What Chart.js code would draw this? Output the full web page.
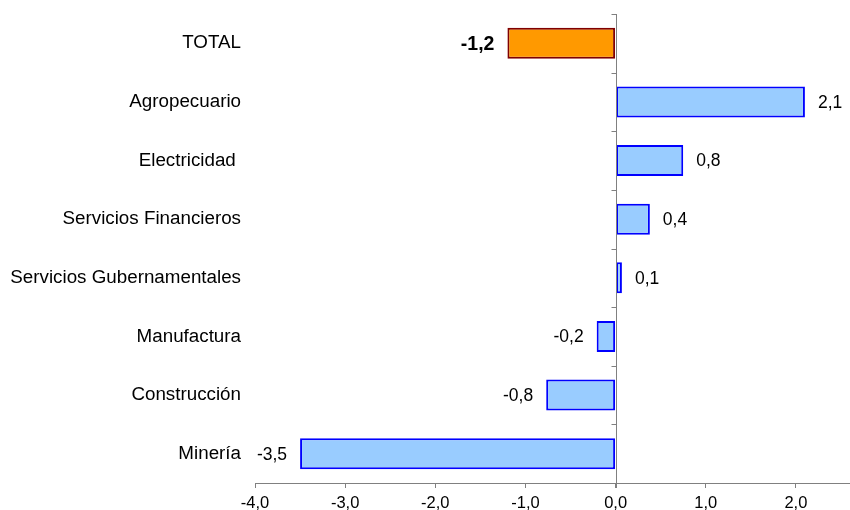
<!DOCTYPE html>
<html>
<head>
<meta charset="utf-8">
<script src="https://cdn.jsdelivr.net/npm/chart.js@4/dist/chart.umd.min.js"></script>
<style>
  html, body { margin: 0; padding: 0; background: #ffffff; }
  #wrap { width: 850px; height: 510px; position: relative; }
</style>
</head>
<body>
<div id="wrap"><canvas id="c"></canvas></div>
<script>
const categories = ["TOTAL", "Agropecuario", "Electricidad ", "Servicios Financieros", "Servicios Gubernamentales", "Manufactura", "Construcción", "Minería"];
const values = [-1.2, 2.1, 0.75, 0.38, 0.07, -0.21, -0.77, -3.5];
const xTickValues = [-4, -3, -2, -1, 0, 1, 2];

const FONT = "'Liberation Sans', Arial, sans-serif";
const fmt = v => (Math.round(v * 10) / 10).toFixed(1).replace('.', ',');

const fills = categories.map((c, i) => i === 0 ? '#FF9900' : '#99CCFF');
const borders = categories.map((c, i) => i === 0 ? '#800000' : '#0000FF');

const zeroAxisPlugin = {
  id: 'zeroAxis',
  afterDatasetsDraw(chart) {
    const { ctx, chartArea, scales } = chart;
    const x0 = Math.round(scales.x.getPixelForValue(0)) + 0.5;
    ctx.save();
    ctx.strokeStyle = '#808080';
    ctx.lineWidth = 1;
    ctx.beginPath();
    ctx.moveTo(x0, chartArea.top);
    ctx.lineTo(x0, chartArea.bottom + 5);
    const n = categories.length;
    const step = (chartArea.bottom - chartArea.top) / n;
    for (let i = 0; i < n; i++) {
      const y = Math.round(chartArea.top + i * step) + 0.5;
      ctx.moveTo(x0 - 5, y);
      ctx.lineTo(x0, y);
    }
    ctx.stroke();
    ctx.restore();
  }
};

const labelPlugin = {
  id: 'barLabels',
  afterDatasetsDraw(chart) {
    const { ctx } = chart;
    const meta = chart.getDatasetMeta(0);
    ctx.save();
    ctx.fillStyle = '#000000';
    ctx.textBaseline = 'middle';
    meta.data.forEach((bar, i) => {
      const v = values[i];
      ctx.font = (i === 0 ? 'bold 19.5px ' : '17.5px ') + FONT;
      if (v >= 0) {
        ctx.textAlign = 'left';
        ctx.fillText(fmt(v), bar.x + 13, bar.y + 1);
      } else {
        ctx.textAlign = 'right';
        ctx.fillText(fmt(v), bar.x - 13, bar.y + 1);
      }
    });
    ctx.restore();
  }
};

new Chart(document.getElementById('c'), {
  type: 'bar',
  data: {
    labels: categories,
    datasets: [{
      data: values,
      backgroundColor: fills,
      borderColor: borders,
      borderWidth: 2,
      borderSkipped: false,
      barPercentage: 0.53,
      categoryPercentage: 1.0
    }]
  },
  options: {
    indexAxis: 'y',
    responsive: true,
    maintainAspectRatio: false,
    devicePixelRatio: 1,
    animation: false,
    layout: { padding: { top: 14, right: 0, left: 0, bottom: 0 } },
    plugins: {
      legend: { display: false },
      tooltip: { enabled: false }
    },
    scales: {
      x: {
        type: 'linear',
        min: -4,
        max: 2.6,
        ticks: {
          stepSize: 1,
          color: '#000000',
          padding: 6,
          maxRotation: 0,
          autoSkip: false,
          font: { family: FONT, size: 16.5 },
          callback: v => fmt(v)
        },
        afterBuildTicks: axis => {
          axis.ticks = xTickValues.map(v => ({ value: v }));
        },
        afterFit: axis => { axis.height = 27; axis.paddingLeft = 0; axis.paddingRight = 0; },
        grid: {
          display: true,
          drawOnChartArea: false,
          drawTicks: true,
          tickLength: 5,
          color: '#808080'
        },
        border: { display: true, color: '#808080' }
      },
      y: {
        type: 'category',
        grid: { display: false, drawTicks: false },
        border: { display: false },
        ticks: {
          color: '#000000',
          padding: 14,
          autoSkip: false,
          font: { family: FONT, size: 18.8 }
        },
        afterFit: axis => { axis.width = 255; axis.paddingTop = 0; axis.paddingBottom = 0; }
      }
    }
  },
  plugins: [zeroAxisPlugin, labelPlugin]
});
</script>
</body>
</html>
